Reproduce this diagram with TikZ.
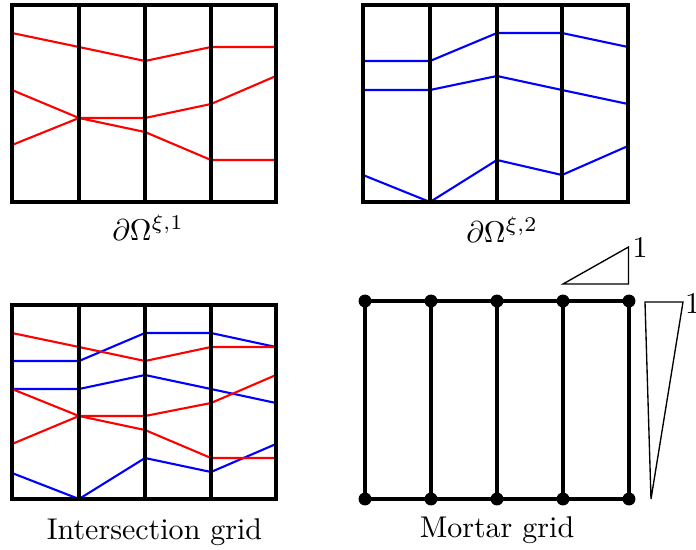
\documentclass[tikz,border=0pt]{standalone}
\usetikzlibrary{calc}
\begin{document}
\begin{tikzpicture}[x=0.3333pt,y=-0.3333pt,
  gridline/.style={draw=black,line width=1.05pt,line join=miter},
  redline/.style={draw=red,line width=0.7pt,line join=round},
  blueline/.style={draw=blue,line width=0.7pt,line join=round},
  tri/.style={draw=black,line width=0.45pt,line join=miter},
  mortardot/.style={circle,fill=black,inner sep=0pt,minimum size=4.3pt},
  lab/.style={anchor=base,inner sep=0pt,font=\normalsize}]
\useasboundingbox (0,0) rectangle (696,550);

% ---------- top-left panel ----------
\draw[redline] (12,33) -- (79,47) -- (145,61) -- (211,47) -- (276,47);
\draw[redline] (12,90) -- (79,118) -- (145,132) -- (211,160) -- (276,160);
\draw[redline] (12,145) -- (79,118) -- (145,118) -- (211,104) -- (276,76);
\draw[gridline] (12,5) rectangle (276,202);
\foreach \x in {79,145,211} \draw[gridline] (\x,5) -- (\x,202);
\node[lab] (l1) at (148,240) {$\partial\Omega^{\xi,1}$};

% ---------- top-right panel ----------
\draw[blueline] (363,61) -- (430,61) -- (497,33) -- (562,33) -- (628,47);
\draw[blueline] (363,90) -- (430,90) -- (497,76) -- (562,90) -- (628,104);
\draw[blueline] (363,175) -- (430,202) -- (497,160) -- (562,175) -- (628,146);
\draw[gridline] (363,5) rectangle (628,202);
\foreach \x in {430,497,562} \draw[gridline] (\x,5) -- (\x,202);
\node[lab] (l2) at (502,242) {$\partial\Omega^{\xi,2}$};

% ---------- bottom-left panel (intersection) ----------
\draw[blueline] (12,361) -- (79,361) -- (145,333) -- (211,333) -- (276,347);
\draw[blueline] (12,389) -- (79,389) -- (145,375) -- (211,389) -- (276,403);
\draw[blueline] (12,473) -- (79,499) -- (145,458) -- (211,472) -- (276,444);
\draw[redline] (12,333) -- (79,347) -- (145,361) -- (211,347) -- (276,347);
\draw[redline] (12,389) -- (79,416) -- (145,430) -- (211,458) -- (276,458);
\draw[redline] (12,444) -- (79,416) -- (145,416) -- (211,403) -- (276,375);
\draw[gridline] (12,305) rectangle (276,499);
\foreach \x in {79,145,211} \draw[gridline] (\x,305) -- (\x,499);
\node[lab] (l3) at (154.5,539) {Intersection grid};

% ---------- bottom-right panel (mortar) ----------
\foreach \x [count=\i] in {365,431,497,563,629} {
  \coordinate (t\i) at (\x,301);
  \coordinate (b\i) at (\x,499);
}
\draw[gridline] (t1) -- (t5);
\draw[gridline] (b1) -- (b5);
\foreach \i in {1,...,5} \draw[gridline] (t\i) -- (b\i);
\foreach \i in {1,...,5} {
  \node[mortardot] (dt\i) at (t\i) {};
  \node[mortardot] (db\i) at (b\i) {};
}
\node[lab] (l4) at (497,537) {Mortar grid};

% slope triangles
\coordinate (a1) at (563,284);
\coordinate (a2) at (628.5,284);
\coordinate (a3) at (628.5,247);
\draw[tri] (a1) -- (a2) -- (a3) -- cycle;
\node[lab] (n1) at (640,257) {1};
\coordinate (c1) at (645,302);
\coordinate (c2) at (683,302);
\coordinate (c3) at (651,499);
\draw[tri] (c1) -- (c2) -- (c3) -- cycle;
\node[lab] (n2) at (692.5,313) {1};
\end{tikzpicture}
\end{document}
